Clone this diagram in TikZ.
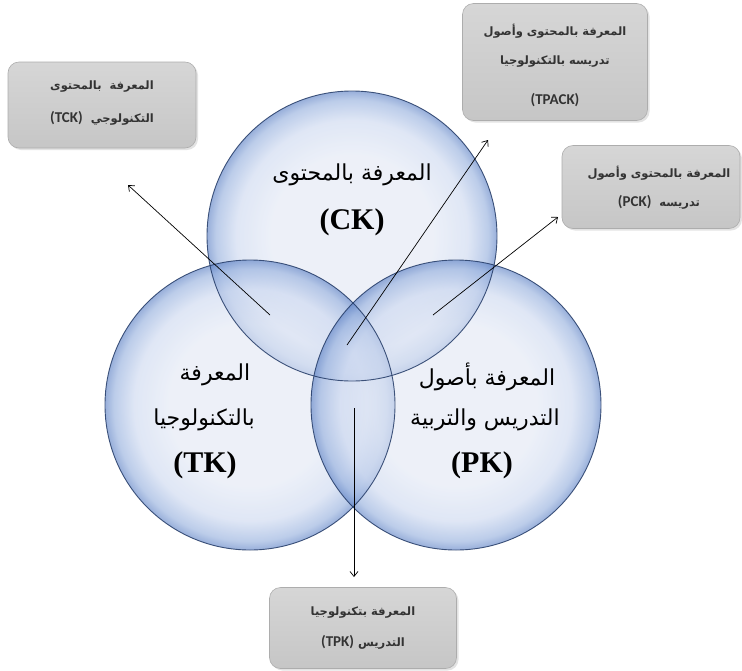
\documentclass[tikz,border=0pt]{standalone}
\usepackage{fontspec}
\setmainfont{Liberation Serif}
\newfontfamily\arfont[Script=Arabic]{DejaVu Sans}
\newfontfamily\boxlat{Carlito}
\TeXXeTstate=1
\usetikzlibrary{arrows.meta,shadows}
\definecolor{rimc}{HTML}{233A66}
\definecolor{bcA}{HTML}{E2E8F5}
\definecolor{bcB}{HTML}{CCD8F0}
\definecolor{bcC}{HTML}{93AEDD}
\definecolor{bcD}{HTML}{5A7FC4}
\definecolor{boxtop}{HTML}{D6D6D6}
\definecolor{boxbot}{HTML}{C6C6C6}
\definecolor{boxline}{HTML}{ADADAD}
\definecolor{boxtext}{HTML}{333333}
\pgfdeclareradialshading{bubble}{\pgfpoint{0bp}{0bp}}{color(0bp)=(bcA); color(14bp)=(bcA); color(20bp)=(bcB); color(23.5bp)=(bcC); color(25bp)=(bcD); color(50bp)=(bcD)}
\newcommand{\boxlatin}[1]{{\boxlat\bfseries\fontsize{15}{17}\selectfont #1}}
\tikzset{
  venn/.style={circle, minimum size=290pt, inner sep=0pt, shading=bubble, fill opacity=0.62, draw=none},
  vennrim/.style={circle, minimum size=290pt, inner sep=0pt, draw=rimc, line width=0.9pt, draw opacity=0.85},
  infobox/.style={rounded corners=11pt, top color=boxtop, bottom color=boxbot, draw=boxline, line width=0.6pt,
    drop shadow={opacity=0.22, shadow xshift=2pt, shadow yshift=-2pt}},
  bigar/.style={font=\arfont\fontsize{22}{26}\selectfont, inner sep=0pt},
  biglat/.style={font=\rmfamily\bfseries\fontsize{30}{34}\selectfont, inner sep=0pt},
  smallar/.style={font=\arfont\bfseries\fontsize{11.5}{13}\selectfont, text=boxtext, inner sep=0pt},
  smalllat/.style={font=\boxlat\bfseries\fontsize{15}{17}\selectfont, text=boxtext, inner sep=0pt},
  conn/.style={line width=0.7pt, -{Straight Barb[length=5pt,width=8pt]}},
}
\begin{document}
\begin{tikzpicture}[x=1pt,y=-1pt]
\useasboundingbox (0,0) rectangle (742,670);
\fill[white] (0,0) rectangle (742,670);
% circles
\node[venn] (ck) at (352,236) {};
\node[venn] (tk) at (250,405) {};
\node[venn] (pk) at (456,405) {};
\node[vennrim] (ckr) at (352,236) {};
\node[vennrim] (tkr) at (250,405) {};
\node[vennrim] (pkr) at (456,405) {};
% circle texts
\node[bigar] (ck1) at (352,175) {\beginR المعرفة بالمحتوى\endR};
\node[biglat] (ck2) at (352,222) {(CK)};
\node[bigar] (tk1) at (215,375) {\beginR المعرفة\endR};
\node[bigar] (tk2) at (204,420) {\beginR بالتكنولوجيا\endR};
\node[biglat] (tk3) at (205,465) {(TK)};
\node[bigar] (pk1) at (487,377) {\beginR المعرفة بأصول\endR};
\node[bigar] (pk2) at (485,420) {\beginR التدريس والتربية\endR};
\node[biglat] (pk3) at (482,465) {(PK)};
% boxes
\node[infobox, minimum width=188pt, minimum height=86pt] (tck) at (102,105) {};
\node[infobox, minimum width=185pt, minimum height=117pt] (tpack) at (555,62) {};
\node[infobox, minimum width=178pt, minimum height=83pt] (pck) at (651,187) {};
\node[infobox, minimum width=187pt, minimum height=81pt] (tpk) at (363,628) {};
% box texts
\node[smallar] (tck1) at (102,87) {\beginR المعرفة\ \ بالمحتوى\endR};
\node[smallar] (tck2) at (102,118) {\beginR التكنولوجي\ \ \beginL\boxlatin{(TCK)}\endL\endR};
\node[smallar] (tpack1) at (555,31) {\beginR المعرفة بالمحتوى وأصول\endR};
\node[smallar] (tpack2) at (555,62) {\beginR تدريسه بالتكنولوجيا\endR};
\node[smalllat] (tpack3) at (555,100) {(TPACK)};
\node[smallar] (pck1) at (659,173) {\beginR المعرفة بالمحتوى وأصول\endR};
\node[smallar] (pck2) at (659,202) {\beginR تدريسه\ \ \beginL\boxlatin{(PCK)}\endL\endR};
\node[smallar] (tpk1) at (363,613) {\beginR المعرفة بتكنولوجيا\endR};
\node[smallar] (tpk2) at (363,642) {\beginR التدريس \beginL\boxlatin{(TPK)}\endL\endR};
% connectors
\coordinate (tckS) at (270,315);
\coordinate (tckE) at (128,185);
\coordinate (tpackS) at (347,345);
\coordinate (tpackE) at (488,140);
\coordinate (pckS) at (433,315);
\coordinate (pckE) at (558,217);
\coordinate (tpkS) at (354,408);
\coordinate (tpkE) at (354,577);
\draw[conn] (tckS) -- (tckE);
\draw[conn] (tpackS) -- (tpackE);
\draw[conn] (pckS) -- (pckE);
\draw[conn] (tpkS) -- (tpkE);
\end{tikzpicture}
\end{document}
